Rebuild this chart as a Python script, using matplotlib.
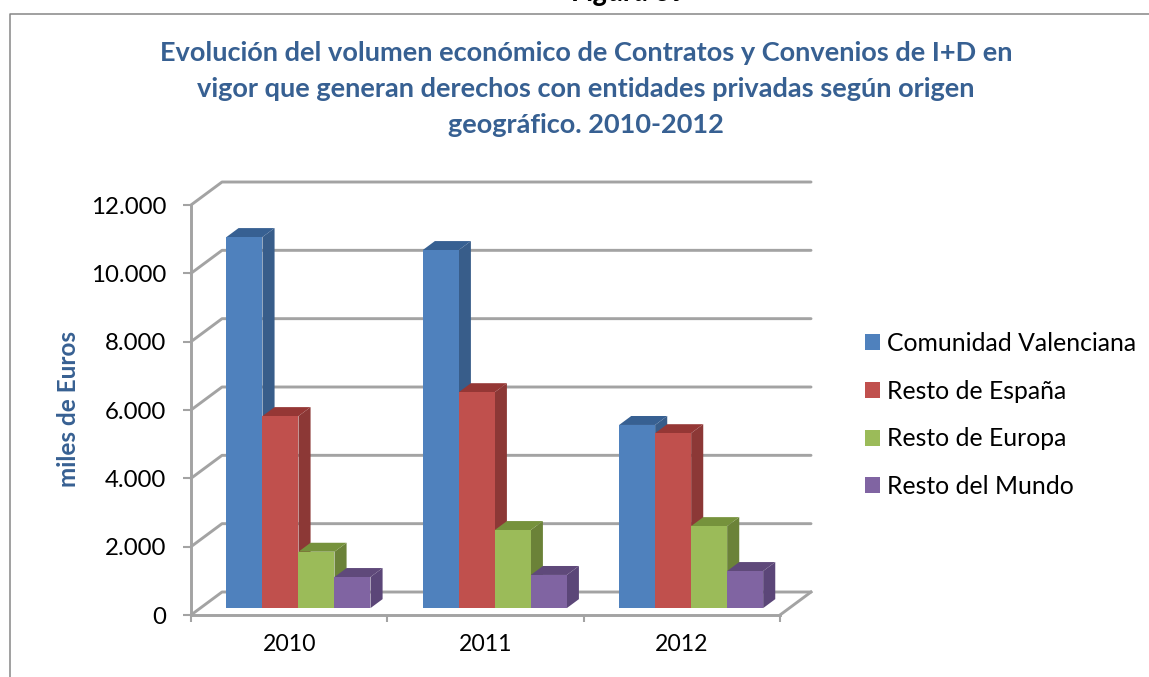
import matplotlib
matplotlib.use("Agg")
import matplotlib.pyplot as plt
from matplotlib.patches import Patch, Polygon
from matplotlib.lines import Line2D
from matplotlib.ticker import FuncFormatter

years = ["2010", "2011", "2012"]
series_names = ["Comunidad Valenciana", "Resto de España", "Resto de Europa", "Resto del Mundo"]
comunidad_valenciana = [10860, 10480, 5360]
resto_espana = [5620, 6320, 5120]
resto_europa = [1650, 2285, 2400]
resto_mundo = [910, 970, 1085]
y_ticks = [0, 2000, 4000, 6000, 8000, 10000, 12000]

front_colors = ["#4F81BD", "#C0504D", "#9BBB59", "#8064A2"]
side_colors = ["#385D8A", "#8C3836", "#6B8238", "#5B4678"]
top_colors = ["#376092", "#953735", "#76923C", "#5F497A"]
GRID = "#A3A3A3"
TITLE = "#376092"
FONT = "Lato"

W, H = 1149, 677
fig = plt.figure(figsize=(W / 100, H / 100), dpi=100, facecolor="white")
ax = fig.add_axes([191 / W, (H - 615) / H, 589 / W, 410 / H])
ax.set_xlim(0, 3)
ax.set_ylim(0, 12000)
ax.patch.set_visible(False)

# oblique depth projection, in data units
DX, DY = 0.158, 673
Z_FRONT, Z_DEPTH = 0.30, 0.39
BAR_W = 0.1834

LW = 2.1
for v in y_ticks:
    ax.plot([0, DX, 3 + DX], [v, v + DY, v + DY], color=GRID, lw=LW, clip_on=False,
            solid_capstyle="round", solid_joinstyle="round", zorder=1)
ax.plot([3, 3 + DX], [0, DY], color=GRID, lw=LW, clip_on=False, zorder=1)

data = [comunidad_valenciana, resto_espana, resto_europa, resto_mundo]
z = 2
for g in range(len(years)):
    for i, vals in enumerate(data):
        v = vals[g]
        x0 = g + 0.5 + (i - 2) * BAR_W + Z_FRONT * DX
        x1 = x0 + BAR_W
        y0 = Z_FRONT * DY
        y1 = y0 + v
        dx, dy = Z_DEPTH * DX, Z_DEPTH * DY
        ax.add_patch(Polygon([(x1, y0), (x1 + dx, y0 + dy), (x1 + dx, y1 + dy), (x1, y1)],
                             closed=True, fc=side_colors[i], ec="none", clip_on=False, zorder=z))
        ax.add_patch(Polygon([(x0, y1), (x1, y1), (x1 + dx, y1 + dy), (x0 + dx, y1 + dy)],
                             closed=True, fc=top_colors[i], ec="none", clip_on=False, zorder=z))
        ax.bar(x0, v, BAR_W, bottom=y0, align="edge", color=front_colors[i], clip_on=False, zorder=z)
        z += 1

for s in ("top", "right"):
    ax.spines[s].set_visible(False)
for s in ("left", "bottom"):
    ax.spines[s].set_color(GRID)
    ax.spines[s].set_linewidth(LW)
    ax.spines[s].set_zorder(1.5)

ax.set_yticks(y_ticks)
ax.yaxis.set_major_formatter(FuncFormatter(lambda v, _: f"{int(v):,}".replace(",", ".")))
ax.tick_params(axis="y", length=6, width=1.5, color=GRID, pad=12, labelsize=17.3, labelcolor="black")
ax.set_xticks(range(len(years) + 1))
ax.set_xticklabels([])
ax.set_xticks([g + 0.5 for g in range(len(years))], labels=years, minor=True)
ax.tick_params(axis="x", which="major", length=5, width=1.5, color=GRID)
ax.tick_params(axis="x", which="minor", length=0, pad=14, labelsize=16.6, labelcolor="black")
for t in ax.get_xticklabels(minor=True) + ax.get_yticklabels():
    t.set_family(FONT)

fig.text(68 / W, 1 - 409 / H, "miles de Euros", rotation=90, ha="center", va="center",
         color=TITLE, fontsize=17.5, fontweight="bold", family=FONT)

title_lines = ["Evolución del volumen económico de Contratos y Convenios de I+D en",
               "vigor que generan derechos con entidades privadas según origen",
               "geográfico. 2010-2012"]
for line, ypx in zip(title_lines, (53, 89, 125)):
    fig.text(586 / W, 1 - ypx / H, line, ha="center", va="center", color=TITLE,
             fontsize=19.5, fontweight="bold", family=FONT)

fig.text(630 / W, 1 - 1.5 / H, "Figura 39", ha="center", va="baseline", color="black",
         fontsize=20.5, fontweight="bold", fontstyle="italic", family=FONT)

handles = [Patch(fc=c, ec="none") for c in front_colors]
fig.legend(handles, series_names, loc="upper left", bbox_to_anchor=(865 / W, 1 - 332 / H),
           bbox_transform=fig.transFigure, frameon=False, prop={"family": FONT, "size": 17.8},
           handlelength=0.62, handleheight=0.62, handletextpad=0.28, labelspacing=1.0,
           borderpad=0, borderaxespad=0)

# outer chart frame, open at the image edges
fig.add_artist(Line2D([9.5 / W, 9.5 / W, 1], [0, 1 - 13.5 / H, 1 - 13.5 / H],
                      transform=fig.transFigure, color="#868686", lw=1.1))

fig.savefig("out.png", dpi=100)
